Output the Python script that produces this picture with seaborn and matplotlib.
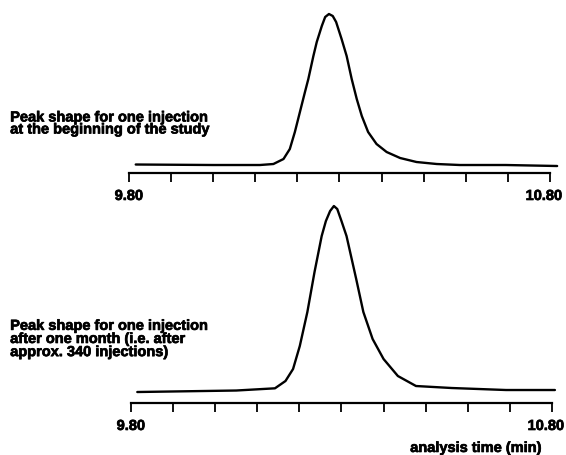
import matplotlib.pyplot as plt
import matplotlib.patheffects as pe
import matplotlib.transforms as mtransforms
import pandas as pd
import seaborn as sns

# retention time (min) and detector signal
time_start = [9.816, 10.000, 10.086, 10.111, 10.143, 10.167, 10.182, 10.194, 10.206,
              10.218, 10.226, 10.238, 10.246, 10.258, 10.266, 10.275, 10.284, 10.292,
              10.305, 10.317, 10.329, 10.341, 10.353, 10.368, 10.388, 10.412, 10.444,
              10.483, 10.531, 10.586, 10.695, 10.817]
signal_start = [1.5, 1, 1, 1, 2, 7, 17, 34, 54,
                74, 87, 110, 124, 140, 149, 152, 150, 144,
                127, 110, 87, 67, 50, 34, 22, 14, 8,
                4, 2, 1, 1, 0]

time_month = [9.815, 10.050, 10.142, 10.167, 10.185, 10.201, 10.219, 10.236, 10.253,
              10.263, 10.273, 10.282, 10.290, 10.300, 10.312, 10.335, 10.352, 10.374,
              10.400, 10.434, 10.477, 10.562, 10.691, 10.807]
signal_month = [0, 1.5, 3.7, 11, 23, 46, 80, 120, 156,
                171, 181, 186, 183, 171, 156, 113, 80, 53,
                33, 16, 6, 4, 2, 2]

tick_values = [9.80, 9.90, 10.00, 10.10, 10.20, 10.30, 10.40, 10.50, 10.60, 10.70, 10.80]
tick_labels = ["9.80", "", "", "", "", "", "", "", "", "", "10.80"]

label_start = "Peak shape for one injection\nat the beginning of the study"
label_month = "Peak shape for one injection\nafter one month (i.e. after\napprox. 340 injections)"

sns.set_style("white")
plt.rcParams["font.family"] = ["Liberation Sans", "DejaVu Sans"]
plt.rcParams["font.weight"] = "bold"
plt.rcParams["text.color"] = "black"

heavy = [pe.withStroke(linewidth=0.5, foreground="black")]

fig = plt.figure(figsize=(5.66, 4.56), dpi=100)
ax1 = fig.add_axes([0.2279, 0.6184, 0.7438, 0.3509])
ax2 = fig.add_axes([0.2314, 0.1140, 0.7438, 0.4342])

df1 = pd.DataFrame({"time": time_start, "signal": signal_start})
df2 = pd.DataFrame({"time": time_month, "signal": signal_month})

for ax, df, ylim in [(ax1, df1, (-7, 153)), (ax2, df2, (-11, 187))]:
    sns.lineplot(df, x="time", y="signal", ax=ax, color="black", linewidth=1.7,
                 sort=False, clip_on=False)
    ax.set_xlim(9.80, 10.80)
    ax.set_ylim(*ylim)
    for s in ["top", "left", "right"]:
        ax.spines[s].set_visible(False)
    ax.spines["bottom"].set_linewidth(1.6)
    ax.spines["bottom"].set_color("black")
    ax.set_xticks(tick_values)
    ax.set_xticklabels(tick_labels, fontsize=10.5, fontweight="bold")
    ax.tick_params(axis="x", direction="out", length=6.5, width=1.3, pad=5,
                   bottom=True, colors="black")
    ax.set_yticks([])
    ax.set_xlabel("")
    ax.set_ylabel("")
    labels = ax.get_xticklabels()
    for lab in labels:
        lab.set_path_effects(heavy)
    shift = mtransforms.ScaledTranslation(-6 / 100, 0, fig.dpi_scale_trans)
    labels[-1].set_transform(labels[-1].get_transform() + shift)

fig.text(0.018, 0.727, label_start, fontsize=10.5, fontweight="bold", color="black",
         ha="left", va="center", linespacing=0.82, path_effects=heavy)
fig.text(0.018, 0.2544, label_month, fontsize=10.5, fontweight="bold", color="black",
         ha="left", va="center", linespacing=0.92, path_effects=heavy)
fig.text(0.841, 0.0154, "analysis time (min)", fontsize=10.5, fontweight="bold",
         color="black", ha="center", va="center", path_effects=heavy)

fig.savefig("out.png", dpi=100)
